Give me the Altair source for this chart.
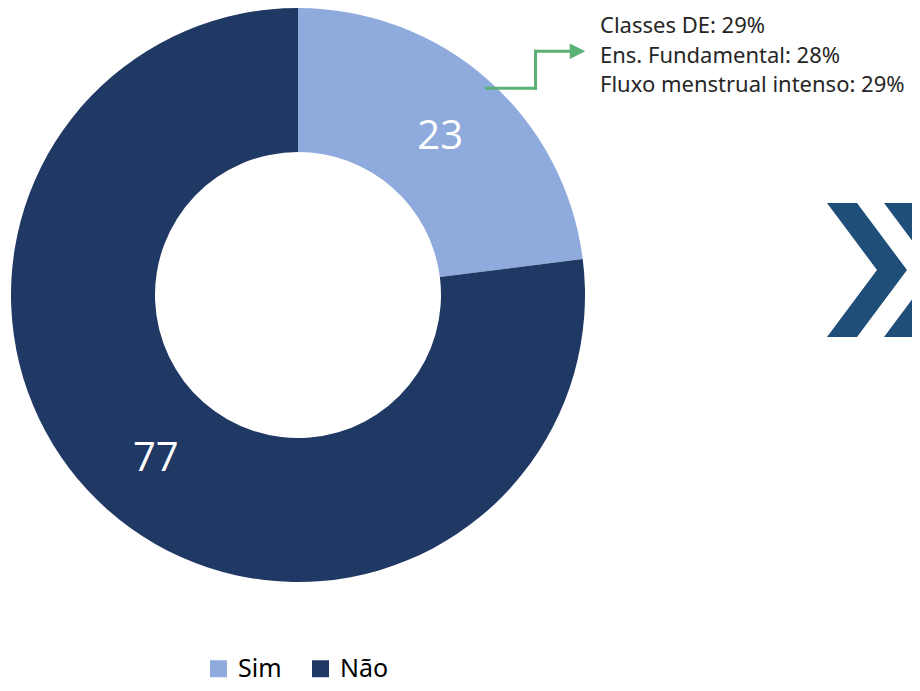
import altair as alt
import pandas as pd

categories = ["Sim", "Não"]
values = [23, 77]
colors = ["#8FAADC", "#203864"]
annotation_lines = ["Classes DE: 29%", "Ens. Fundamental: 28%", "Fluxo menstrual intenso: 29%"]

df = pd.DataFrame({"cat": categories, "val": values, "idx": list(range(len(categories)))})
lines_df = pd.DataFrame({"line": annotation_lines, "row": list(range(len(annotation_lines)))})

W, H = 904, 675
CX, CY = 290, 287

color = alt.Color("cat:N", scale=alt.Scale(domain=categories, range=colors), sort=categories,
                  legend=alt.Legend(title=None, orient="none", legendX=198, legendY=648,
                                    direction="horizontal", symbolType="square", symbolSize=289,
                                    symbolStrokeWidth=0, labelFontSize=25, labelColor="#000000",
                                    labelFont="Noto Sans", labelOffset=7, columnPadding=26,
                                    symbolOpacity=1))

base = alt.Chart(df).encode(
    theta=alt.Theta("val:Q", stack=True),
    order=alt.Order("idx:Q"),
)

arcs = base.mark_arc(innerRadius=143, outerRadius=287).encode(
    color=color, x=alt.value(CX), y=alt.value(CY)
)

labels = base.mark_text(radius=215, fontSize=40, color="white", font="Open Sans",
                        fontWeight="normal", dy=3).encode(
    text=alt.Text("val:Q"), x=alt.value(CX), y=alt.value(CY)
)

one = alt.Chart(pd.DataFrame({"a": [0]}))

green = "#5BB075"
seg1 = one.mark_rule(color=green, strokeWidth=3).encode(
    x=alt.value(477), x2=alt.value(529), y=alt.value(80.3))
seg2 = one.mark_rule(color=green, strokeWidth=3).encode(
    x=alt.value(527.5), y=alt.value(81.8), y2=alt.value(41.8))
seg3 = one.mark_rule(color=green, strokeWidth=3).encode(
    x=alt.value(526), x2=alt.value(564), y=alt.value(43.3))
head = one.mark_point(shape="M -1 -1 L 1 0 L -1 1 Z", filled=True, color=green, opacity=1,
                      size=240).encode(x=alt.value(569.5), y=alt.value(43.3))

text = alt.Chart(lines_df).mark_text(align="left", baseline="middle", fontSize=22,
                                     font="Noto Sans", color="#262626").encode(
    x=alt.value(592),
    y=alt.Y("row:Q", scale=alt.Scale(domain=[0, 2], range=[18, 77]), axis=None),
    text=alt.Text("line:N"),
)

chev_path = ("M -0.597 -1 L -0.149 -1 L 0.597 0 L -0.149 1 L -0.597 1 L 0.149 0 Z "
             "M 0.254 -1 L 0.701 -1 L 1.448 0 L 0.701 1 L 0.254 1 L 1.0 0 Z")
chev = one.mark_point(shape=chev_path, filled=True, color="#1F4E79", opacity=1,
                      size=134 * 134).encode(x=alt.value(859), y=alt.value(262))

chart = alt.layer(arcs, labels, seg1, seg2, seg3, head, text, chev).properties(
    width=W, height=H, padding=0, autosize=alt.AutoSizeParams(type="none")
).configure_view(stroke=None)

chart.save("out.html", embed_options={"renderer": "svg", "actions": False})
